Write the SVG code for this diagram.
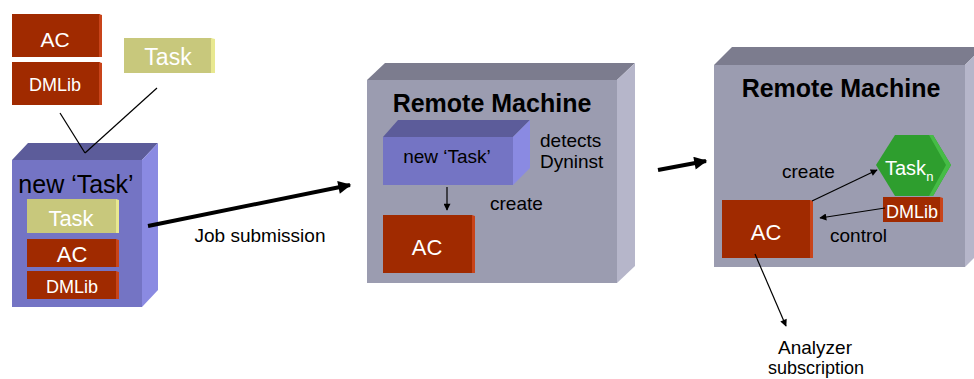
<svg xmlns="http://www.w3.org/2000/svg" width="974" height="379" viewBox="0 0 974 379">
<style>
text{font-family:"Liberation Sans",Arial,sans-serif;}
.w{fill:#ffffff;text-anchor:middle;}
.k{fill:#000000;}
.red{fill:#a02a00;}
.redb{fill:#c8441a;}
.yel{fill:#c8c87c;}
.yelb{fill:#e8e890;}
.mf{fill:#9b9cb0;}
.mt{fill:#7c7c8e;}
.mr{fill:#b6b6ca;}
.pf{fill:#7474c4;}
.pt{fill:#5c5c9a;}
.pr{fill:#8a8ae2;}
.thin{stroke:#000;stroke-width:1.2;fill:none;}
.thick{stroke:#000;stroke-width:4;fill:none;}
</style>
<defs>
<marker id="ah" viewBox="0 0 10 10" refX="9" refY="5" markerWidth="9" markerHeight="7" markerUnits="userSpaceOnUse" orient="auto"><path d="M0,0 L10,5 L0,10 z" fill="#000"/></marker>
<marker id="ahb" viewBox="0 0 10 10" refX="9" refY="5" markerWidth="16" markerHeight="13" markerUnits="userSpaceOnUse" orient="auto"><path d="M0,0 L10,5 L0,10 z" fill="#000"/></marker>
</defs>

<g id="ac-top">
<rect class="red" x="12" y="14" width="88" height="43"/>
<polygon class="redb" points="99,14 102,15 102,57 99,57"/>
<text class="w" x="55" y="47" font-size="21">AC</text>
</g>
<g id="dmlib-top">
<rect class="red" x="12" y="62" width="88" height="43"/>
<polygon class="redb" points="99,62 102,63 102,105 99,105"/>
<text class="w" x="55" y="91" font-size="18">DMLib</text>
</g>
<g id="task-top">
<rect class="yel" x="124" y="38" width="88" height="35"/>
<polygon class="yelb" points="211,38 215,39 215,73 211,73"/>
<text class="w" x="168" y="65" font-size="23">Task</text>
</g>

<g id="new-task-cube">
<polygon class="pt" points="12,160 28,143 158,143 142,160"/>
<polygon class="pr" points="142,160 158,143 158,290 142,307"/>
<rect class="pf" x="12" y="160" width="130" height="147"/>
<text class="k" x="76" y="193" font-size="25" text-anchor="middle">new ‘Task’</text>
<rect class="yel" x="27" y="199" width="89" height="34"/>
<polygon class="yelb" points="116,199 119,200 119,233 116,233"/>
<text class="w" x="71" y="226" font-size="22">Task</text>
<rect class="red" x="27" y="239" width="89" height="28"/>
<polygon class="redb" points="116,239 119,240 119,267 116,267"/>
<text class="w" x="72" y="262" font-size="22">AC</text>
<rect class="red" x="27" y="271" width="89" height="28"/>
<polygon class="redb" points="116,271 119,272 119,299 116,299"/>
<text class="w" x="72" y="293" font-size="18">DMLib</text>
</g>

<g id="remote-machine-1">
<polygon class="mt" points="367,80 385,63 635,63 617,80"/>
<polygon class="mr" points="617,80 635,63 635,266 617,283"/>
<rect class="mf" x="367" y="80" width="250" height="203"/>
<text class="k" x="492" y="112" font-size="25" font-weight="bold" text-anchor="middle">Remote Machine</text>
</g>
<g id="remote-task">
<polygon class="pt" points="383,137 398,120 530,120 513,137"/>
<polygon class="pr" points="513,137 530,120 530,168 513,185"/>
<rect class="pf" x="383" y="137" width="130" height="48"/>
<text class="k" x="447" y="163" font-size="19" text-anchor="middle">new ‘Task’</text>
</g>
<g id="remote-ac-1">
<rect class="red" x="383" y="215" width="89" height="58"/>
<polygon class="redb" points="472,215 475,216 475,273 472,273"/>
<text class="w" x="427" y="255" font-size="22">AC</text>
</g>
<text class="k" x="540" y="147" font-size="19">detects</text>
<text class="k" x="540" y="168" font-size="19">Dyninst</text>
<text class="k" x="490" y="210" font-size="19">create</text>

<g id="remote-machine-2">
<polygon class="mt" points="714,65 732,47 983,47 965,65"/>
<polygon class="mr" points="965,65 983,47 983,249 965,267"/>
<rect class="mf" x="714" y="65" width="251" height="202"/>
<text class="k" x="841" y="97" font-size="25" font-weight="bold" text-anchor="middle">Remote Machine</text>
</g>
<g id="task-n">
<polygon fill="#2e9e2e" points="876,165 895,135 933,135 951,165 933,196 895,196"/>
<polygon fill="#46bc46" points="929,135 933,135 951,165 933,196 929,196 946,165"/>
<text fill="#fff" x="885" y="175" font-size="20">Task<tspan font-size="13" dy="6">n</tspan></text>
</g>
<g id="dmlib-2">
<rect class="red" x="883" y="197" width="57" height="25"/>
<polygon class="redb" points="940,197 943,198 943,222 940,222"/>
<text class="w" x="912" y="218" font-size="18">DMLib</text>
</g>
<g id="remote-ac-2">
<rect class="red" x="722" y="200" width="88" height="58"/>
<polygon class="redb" points="810,200 813,201 813,258 810,258"/>
<text class="w" x="766" y="240" font-size="22">AC</text>
</g>
<text class="k" x="782" y="178" font-size="19">create</text>
<text class="k" x="830" y="242" font-size="19">control</text>
<text class="k" x="815" y="354" font-size="19" text-anchor="middle">Analyzer</text>
<text class="k" x="816" y="374" font-size="18" text-anchor="middle">subscription</text>
<text class="k" x="260" y="242" font-size="19" text-anchor="middle">Job submission</text>

<g id="connectors">
<line class="thin" x1="60" y1="113" x2="85" y2="153"/>
<line class="thin" x1="157" y1="88" x2="85" y2="153"/>
<line class="thick" x1="148" y1="226" x2="350" y2="185" marker-end="url(#ahb)"/>
<line class="thick" x1="658" y1="170" x2="706" y2="161" marker-end="url(#ahb)"/>
<line class="thin" x1="447" y1="187" x2="447" y2="210" marker-end="url(#ah)"/>
<line class="thin" x1="812" y1="201" x2="877" y2="170" marker-end="url(#ah)"/>
<line class="thin" x1="885" y1="208" x2="820" y2="218" marker-end="url(#ah)"/>
<line class="thin" x1="755" y1="254" x2="786" y2="326" marker-end="url(#ah)"/>
</g>
</svg>
